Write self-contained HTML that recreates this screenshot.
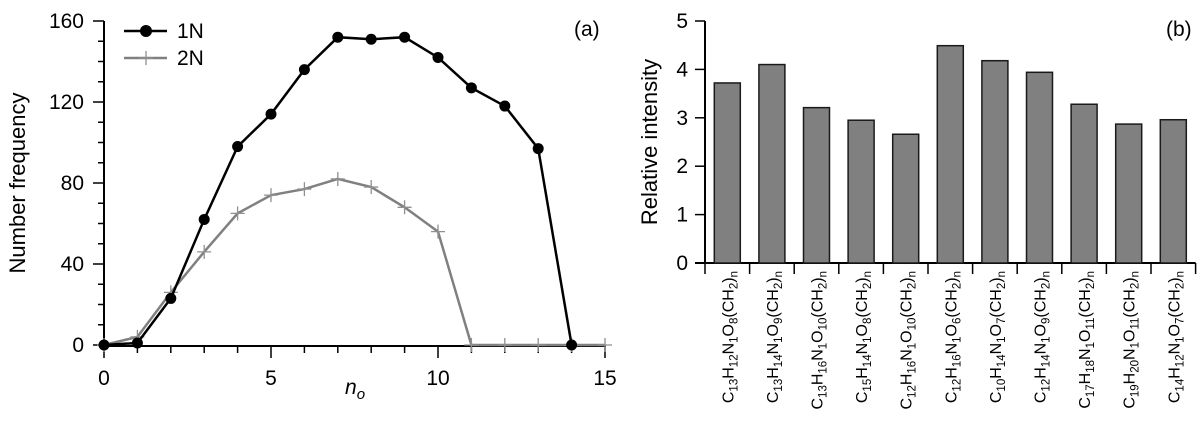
<!DOCTYPE html>
<html><head><meta charset="utf-8"><style>
body{margin:0;background:#fff}
svg{display:block;font-family:"Liberation Sans",Arial,sans-serif}
</style></head><body>
<svg id="fig" width="1204" height="426" viewBox="0 0 1204 426">
<g id="ca"></g>
<g id="cb"></g>
</svg>
<script>
const xsA = [0,1,2,3,4,5,6,7,8,9,10,11,12,13,14,15];
const series1N = [0,1,23,62,98,114,136,152,151,152,142,127,118,97,0];
const series2N = [0,4,26,46,65,74,77,82,78,68,56,0,0,0,0,0];
const yTicksA = [0,40,80,120,160];
const xTicksA = [0,5,10,15];
const categories = ["C|13|H|12|N|1|O|8|(CH|2|)|n","C|13|H|14|N|1|O|9|(CH|2|)|n","C|13|H|16|N|1|O|10|(CH|2|)|n","C|15|H|14|N|1|O|8|(CH|2|)|n","C|12|H|16|N|1|O|10|(CH|2|)|n","C|12|H|16|N|1|O|6|(CH|2|)|n","C|10|H|14|N|1|O|7|(CH|2|)|n","C|12|H|14|N|1|O|9|(CH|2|)|n","C|17|H|18|N|1|O|11|(CH|2|)|n","C|19|H|20|N|1|O|11|(CH|2|)|n","C|14|H|12|N|1|O|7|(CH|2|)|n"];
const intensities = [3.72,4.1,3.21,2.95,2.66,4.49,4.18,3.94,3.28,2.87,2.96];
const yTicksB = [0,1,2,3,4,5];

const NS="http://www.w3.org/2000/svg";
function mk(parent,tag,attrs,text){const e=document.createElementNS(NS,tag);for(const k in attrs)e.setAttribute(k,attrs[k]);if(text!==undefined)e.textContent=text;parent.appendChild(e);return e;}

// Chart A
const A=document.getElementById('ca');
const xA=v=>104+v*(605-104)/15;
const yA=v=>345-v*(345-21)/160;
let e;
e=mk(A,'line',{x1:104,y1:21,x2:104,y2:346,stroke:'#000','stroke-width':2});


e=mk(A,'line',{x1:104,y1:346,x2:606,y2:346,stroke:'#000','stroke-width':2});


for(let v=0;v<=160;v+=10){const maj=v%40===0;mk(A,'line',{x1:maj?93:98,y1:yA(v),x2:104,y2:yA(v),stroke:'#000','stroke-width':1.5});}
yTicksA.forEach(v=>{e=mk(A,'text',{x:84,y:yA(v)+7,'text-anchor':'end','font-size':21},v);

});
for(let v=0;v<=15;v++){const maj=v%5===0;mk(A,'line',{x1:xA(v),y1:346,x2:xA(v),y2:maj?358:353,stroke:'#000','stroke-width':1.5});}
xTicksA.forEach(v=>{e=mk(A,'text',{x:xA(v),y:385,'text-anchor':'middle','font-size':21},v);

});
e=mk(A,'text',{x:25,y:183,'text-anchor':'middle','font-size':22,transform:'rotate(-90 25 183)'},'Number frequency');


e=mk(A,'text',{x:345,y:394,'font-size':21,'font-style':'italic'},'n');


mk(e,'tspan',{'font-size':15,dy:5},'o');
e=mk(A,'text',{x:574,y:36,'font-size':21},'(a)');


// 2N
e=mk(A,'polyline',{points:series2N.map((v,i)=>xA(xsA[i])+','+yA(v)).join(' '),fill:'none',stroke:'#808080','stroke-width':2.5});


series2N.forEach((v,i)=>{const x=xA(xsA[i]),y=yA(v);e=mk(A,'path',{d:`M${x-7},${y}H${x+7}M${x},${y-7}V${y+7}`,stroke:'#909090','stroke-width':1.3});

});
// 1N
e=mk(A,'polyline',{points:series1N.map((v,i)=>xA(xsA[i])+','+yA(v)).join(' '),fill:'none',stroke:'#000','stroke-width':2.5});


series1N.forEach((v,i)=>{e=mk(A,'circle',{cx:xA(xsA[i]),cy:yA(v),r:5.5,fill:'#000'});

});
// legend
e=mk(A,'g',{});


mk(e,'line',{x1:124,y1:31,x2:167,y2:31,stroke:'#000','stroke-width':2.5});
mk(e,'circle',{cx:146,cy:31,r:6,fill:'#000'});
mk(e,'text',{x:177,y:38,'font-size':21},'1N');
mk(e,'line',{x1:124,y1:58,x2:167,y2:58,stroke:'#808080','stroke-width':2.5});
mk(e,'path',{d:'M139,58H153M146,51V65',stroke:'#909090','stroke-width':1.3});
mk(e,'text',{x:177,y:65,'font-size':21},'2N');

// Chart B
const B=document.getElementById('cb');
const x0=705,slot=44.6;
const yB=v=>263-v*(263-21)/5;
e=mk(B,'line',{x1:x0,y1:21,x2:x0,y2:264,stroke:'#000','stroke-width':2});


e=mk(B,'line',{x1:x0-10,y1:263,x2:x0+slot*categories.length,y2:263,stroke:'#000','stroke-width':2});


yTicksB.forEach(v=>{mk(B,'line',{x1:x0-10,y1:yB(v),x2:x0,y2:yB(v),stroke:'#000','stroke-width':1.5});
e=mk(B,'text',{x:688,y:yB(v)+7,'text-anchor':'end','font-size':21},v);

});
e=mk(B,'text',{x:657,y:142,'text-anchor':'middle','font-size':22,transform:'rotate(-90 657 142)'},'Relative intensity');


e=mk(B,'text',{x:1166,y:36,'font-size':21},'(b)');


for(let i=0;i<=categories.length;i++){mk(B,'line',{x1:x0+i*slot,y1:263,x2:x0+i*slot,y2:274,stroke:'#000','stroke-width':1.5});}
intensities.forEach((v,i)=>{const cx=x0+slot*(i+0.5);
e=mk(B,'rect',{x:cx-13,y:yB(v),width:26,height:263-yB(v),fill:'#808080',stroke:'#1a1a1a','stroke-width':1.5});


const parts=categories[i].split('|');
const t=mk(B,'text',{x:0,y:0,'text-anchor':'end','font-size':16,transform:`translate(${cx+6},271) rotate(-90)`});


parts.forEach((p,j)=>{if(j%2===0)mk(t,'tspan',{dy:j===0?0:-4,'font-size':16},p);else mk(t,'tspan',{dy:4,'font-size':11.5},p);});
});
</script>
</body></html>
